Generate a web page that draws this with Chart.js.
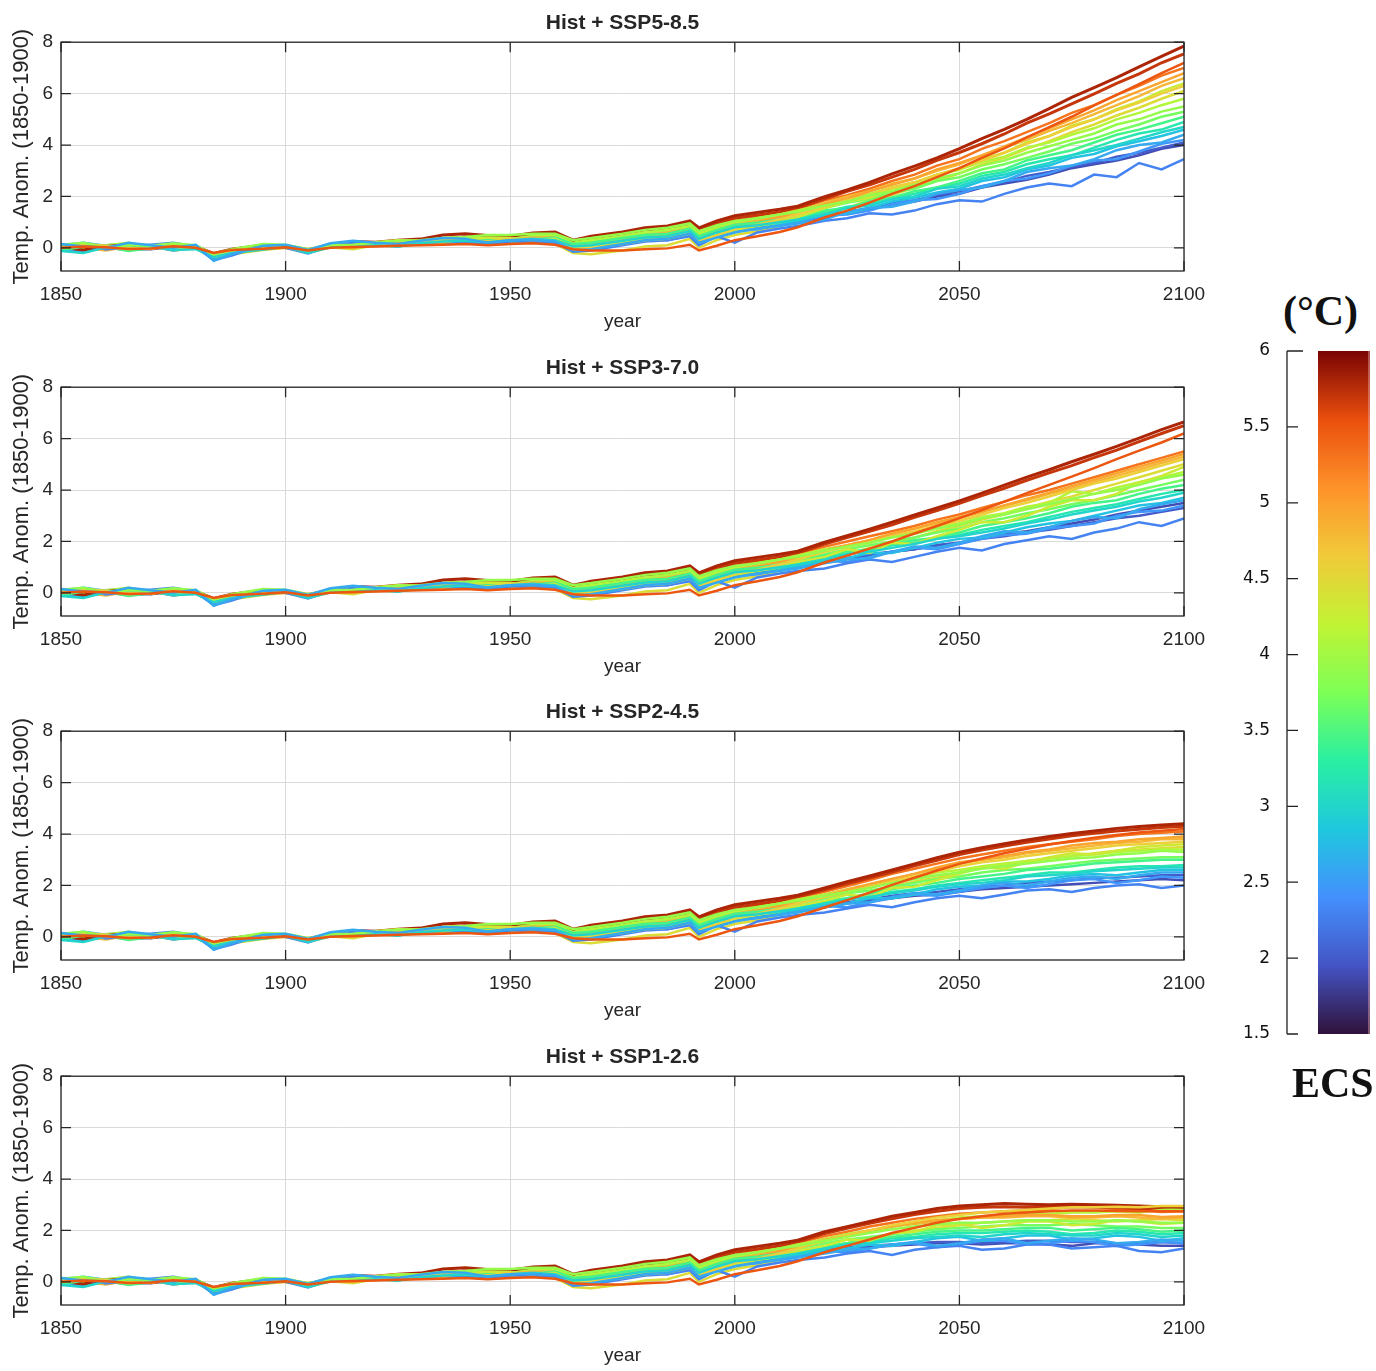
<!DOCTYPE html>
<html>
<head>
<meta charset="utf-8">
<title>Temperature anomaly by ECS - Hist + SSP scenarios</title>
<script src="https://cdn.jsdelivr.net/npm/chart.js@4.4.1/dist/chart.umd.min.js"></script>
<style>
  html, body { margin: 0; padding: 0; background: #fff; }
  body { width: 1376px; height: 1371px; position: relative; overflow: hidden; }
  .panel { position: absolute; left: 0; width: 1245px; height: 345px; }
  #cbWrap { position: absolute; left: 1236px; top: 330px; width: 140px; height: 730px; }
  .cbText { position: absolute; font-family: 'Liberation Serif', serif; font-weight: bold;
            font-size: 42px; line-height: 42px; color: #111; white-space: nowrap; }
</style>
</head>
<body>
<div class="panel" style="top:0px"><canvas id="p0"></canvas></div>
<div class="panel" style="top:345px"><canvas id="p1"></canvas></div>
<div class="panel" style="top:689px"><canvas id="p2"></canvas></div>
<div class="panel" style="top:1034px"><canvas id="p3"></canvas></div>
<div class="cbText" style="left:1283px; top:290px;">(°C)</div>
<div id="cbWrap"><canvas id="cb"></canvas></div>
<div class="cbText" style="left:1292px; top:1062px;">ECS</div>

<script>
// ---- data ----
const panelTitles = ['Hist + SSP5-8.5', 'Hist + SSP3-7.0', 'Hist + SSP2-4.5', 'Hist + SSP1-2.6'];
const xTickValues = [1850, 1900, 1950, 2000, 2050, 2100];
const yTickValues = [0, 2, 4, 6, 8];
const ecsTickValues = [1.5, 2, 2.5, 3, 3.5, 4, 4.5, 5, 5.5, 6];

const histYears = [1850, 1855, 1860, 1865, 1870, 1875, 1880, 1884, 1888, 1895, 1900, 1905,
                   1910, 1915, 1920, 1925, 1930, 1935, 1940, 1945, 1950, 1955, 1960, 1964,
                   1968, 1975, 1980, 1985, 1990, 1992, 1996, 2000, 2005, 2010, 2014];
const scenarioYears = [2020, 2025, 2030, 2035, 2040, 2045, 2050, 2055, 2060,
                       2065, 2070, 2075, 2080, 2085, 2090, 2095, 2100];

// one entry per model, highest ECS first
const modelECS = [5.8, 5.7, 5.5, 5.3, 4.95, 4.8, 4.6, 4.45, 4.3, 4.1, 3.9,
                  3.7, 3.45, 3.2, 3.0, 2.8, 2.6, 2.45, 2.3, 2.0, 1.9];

const histAnom = [
  [0.02, -0.08, 0.05, 0.12, -0.03, 0.08, 0.06, -0.22, -0.05, 0.1, 0.08, -0.08, 0.12, 0.25, 0.22, 0.3, 0.34, 0.5, 0.55, 0.48, 0.45, 0.58, 0.62, 0.3, 0.45, 0.62, 0.78, 0.85, 1.05, 0.78, 1.05, 1.25, 1.38, 1.5, 1.62],
  [-0.04, 0.06, 0.03, -0.08, 0.0, 0.1, 0.02, -0.28, -0.1, 0.0, 0.04, -0.12, 0.08, 0.12, 0.18, 0.28, 0.3, 0.35, 0.42, 0.4, 0.4, 0.48, 0.5, 0.22, 0.35, 0.55, 0.7, 0.75, 0.95, 0.7, 0.95, 1.15, 1.28, 1.4, 1.55],
  [0.0, 0.05, 0.02, -0.04, -0.02, 0.06, 0.0, -0.2, -0.08, -0.03, 0.02, -0.1, 0.0, 0.03, 0.05, 0.08, 0.1, 0.12, 0.15, 0.1, 0.15, 0.18, 0.12, -0.05, -0.1, -0.1, -0.05, -0.02, 0.12, -0.1, 0.08, 0.3, 0.45, 0.62, 0.8],
  [0.05, -0.05, 0.0, 0.08, 0.04, -0.06, 0.02, -0.3, -0.12, 0.02, 0.06, -0.15, 0.1, 0.05, 0.15, 0.2, 0.28, 0.32, 0.4, 0.45, 0.42, 0.4, 0.48, 0.15, 0.25, 0.4, 0.55, 0.62, 0.85, 0.55, 0.8, 1.05, 1.2, 1.35, 1.5],
  [-0.05, 0.1, 0.05, -0.02, 0.0, 0.12, 0.04, -0.32, -0.15, -0.05, 0.0, -0.18, 0.05, 0.0, 0.12, 0.18, 0.25, 0.2, 0.35, 0.3, 0.3, 0.28, 0.35, 0.05, 0.1, 0.25, 0.4, 0.5, 0.7, 0.4, 0.65, 0.85, 1.0, 1.2, 1.35],
  [0.08, 0.0, -0.1, 0.05, 0.06, 0.0, 0.0, -0.26, -0.05, 0.05, 0.1, -0.05, 0.12, 0.18, 0.2, 0.22, 0.3, 0.38, 0.38, 0.42, 0.45, 0.4, 0.42, 0.12, 0.2, 0.35, 0.5, 0.6, 0.78, 0.5, 0.75, 0.95, 1.1, 1.25, 1.4],
  [0.0, 0.15, 0.08, 0.0, -0.04, 0.1, 0.05, -0.35, -0.2, -0.02, 0.05, -0.12, 0.08, 0.1, 0.15, 0.12, 0.22, 0.3, 0.3, 0.25, 0.35, 0.32, 0.3, -0.05, 0.0, 0.15, 0.3, 0.35, 0.55, 0.25, 0.5, 0.75, 0.9, 1.1, 1.3],
  [-0.08, -0.15, 0.0, 0.1, 0.05, -0.1, -0.02, -0.4, -0.25, -0.08, 0.0, -0.2, 0.02, -0.05, 0.1, 0.05, 0.15, 0.22, 0.25, 0.18, 0.2, 0.22, 0.15, -0.2, -0.25, -0.1, 0.05, 0.1, 0.35, 0.0, 0.3, 0.5, 0.65, 0.85, 1.05],
  [0.1, 0.18, 0.04, -0.05, 0.0, 0.15, 0.08, -0.3, -0.1, 0.02, 0.1, -0.08, 0.15, 0.2, 0.22, 0.3, 0.28, 0.25, 0.32, 0.4, 0.38, 0.3, 0.35, 0.0, 0.05, 0.2, 0.4, 0.45, 0.6, 0.3, 0.5, 0.7, 0.85, 1.0, 1.2],
  [0.05, -0.02, 0.1, 0.2, 0.03, -0.05, 0.0, -0.38, -0.15, 0.0, 0.02, -0.15, 0.06, 0.15, 0.18, 0.2, 0.25, 0.35, 0.4, 0.45, 0.42, 0.5, 0.5, 0.2, 0.3, 0.45, 0.6, 0.7, 0.85, 0.55, 0.8, 1.0, 1.15, 1.3, 1.45],
  [0.12, 0.2, 0.0, 0.1, 0.08, 0.18, 0.1, -0.25, -0.05, 0.15, 0.12, -0.05, 0.1, 0.12, 0.2, 0.28, 0.3, 0.38, 0.42, 0.5, 0.5, 0.55, 0.55, 0.3, 0.38, 0.55, 0.7, 0.78, 0.95, 0.65, 0.88, 1.05, 1.15, 1.3, 1.4],
  [0.0, -0.1, 0.06, 0.15, 0.1, 0.02, 0.03, -0.32, -0.12, 0.05, 0.05, -0.1, 0.12, 0.08, 0.15, 0.2, 0.25, 0.3, 0.35, 0.32, 0.4, 0.45, 0.45, 0.2, 0.28, 0.42, 0.55, 0.62, 0.8, 0.5, 0.75, 0.95, 1.05, 1.2, 1.3],
  [-0.1, 0.05, 0.04, -0.12, -0.02, 0.08, 0.06, -0.28, -0.1, -0.04, 0.08, -0.12, 0.05, 0.15, 0.12, 0.1, 0.22, 0.28, 0.3, 0.35, 0.35, 0.32, 0.4, 0.15, 0.2, 0.38, 0.5, 0.55, 0.75, 0.45, 0.7, 0.9, 0.98, 1.1, 1.2],
  [0.06, 0.15, -0.05, 0.0, 0.02, 0.12, 0.08, -0.3, -0.15, 0.02, 0.0, -0.15, 0.1, 0.05, 0.16, 0.25, 0.2, 0.22, 0.32, 0.3, 0.38, 0.42, 0.35, 0.1, 0.2, 0.32, 0.45, 0.5, 0.7, 0.4, 0.65, 0.85, 0.95, 1.05, 1.15],
  [-0.12, -0.2, 0.02, 0.1, 0.05, -0.08, -0.05, -0.35, -0.2, -0.06, 0.04, -0.2, 0.02, 0.1, 0.1, 0.05, 0.18, 0.25, 0.28, 0.22, 0.3, 0.35, 0.3, 0.05, 0.1, 0.28, 0.4, 0.45, 0.65, 0.35, 0.6, 0.8, 0.88, 1.0, 1.1],
  [0.1, 0.2, 0.08, -0.05, 0.0, 0.15, 0.04, -0.42, -0.2, 0.05, 0.1, -0.12, 0.15, 0.25, 0.1, 0.2, 0.25, 0.35, 0.3, 0.25, 0.32, 0.3, 0.28, 0.0, 0.05, 0.22, 0.35, 0.4, 0.6, 0.3, 0.55, 0.75, 0.85, 0.95, 1.05],
  [0.15, 0.05, 0.0, 0.2, 0.1, 0.0, 0.12, -0.5, -0.25, 0.08, 0.12, -0.08, 0.18, 0.28, 0.2, 0.15, 0.28, 0.38, 0.35, 0.2, 0.3, 0.32, 0.25, -0.1, -0.05, 0.15, 0.3, 0.35, 0.55, 0.2, 0.4, 0.6, 0.75, 0.85, 0.95],
  [-0.05, -0.15, 0.1, 0.15, 0.06, -0.1, 0.0, -0.45, -0.2, 0.0, 0.06, -0.15, 0.1, 0.05, 0.15, 0.25, 0.22, 0.18, 0.25, 0.3, 0.28, 0.2, 0.3, -0.05, 0.05, 0.2, 0.35, 0.3, 0.5, 0.25, 0.45, 0.65, 0.72, 0.9, 1.0],
  [0.08, 0.18, -0.06, 0.05, 0.12, 0.2, 0.05, -0.48, -0.3, 0.1, 0.0, -0.22, 0.08, 0.2, 0.14, 0.05, 0.2, 0.3, 0.22, 0.15, 0.25, 0.3, 0.2, -0.15, -0.1, 0.1, 0.25, 0.3, 0.45, 0.1, 0.45, 0.2, 0.6, 0.75, 0.85],
  [0.0, 0.1, 0.05, -0.05, -0.05, 0.05, 0.08, -0.3, -0.12, 0.02, 0.05, -0.1, 0.1, 0.15, 0.18, 0.22, 0.3, 0.32, 0.35, 0.38, 0.4, 0.35, 0.38, 0.15, 0.2, 0.3, 0.45, 0.5, 0.65, 0.4, 0.6, 0.8, 0.9, 1.0, 1.1],
  [0.04, -0.05, -0.02, 0.08, 0.04, -0.04, 0.0, -0.25, -0.1, 0.0, 0.04, -0.08, 0.06, 0.1, 0.12, 0.2, 0.26, 0.28, 0.3, 0.32, 0.34, 0.38, 0.36, 0.15, 0.2, 0.28, 0.42, 0.48, 0.6, 0.38, 0.55, 0.72, 0.82, 0.92, 1.02]
];

const ssp585 = [
  [1.99, 2.25, 2.55, 2.88, 3.18, 3.5, 3.86, 4.25, 4.61, 5.0, 5.42, 5.85, 6.23, 6.62, 7.04, 7.45, 7.85],
  [1.91, 2.2, 2.45, 2.75, 3.05, 3.4, 3.71, 4.05, 4.43, 4.85, 5.21, 5.6, 5.99, 6.4, 6.77, 7.2, 7.55],
  [1.18, 1.45, 1.76, 2.1, 2.4, 2.75, 3.1, 3.5, 3.87, 4.3, 4.7, 5.1, 5.54, 5.95, 6.37, 6.8, 7.2],
  [1.85, 2.05, 2.3, 2.6, 2.85, 3.2, 3.45, 3.85, 4.15, 4.5, 4.85, 5.25, 5.55, 5.95, 6.3, 6.7, 7.0],
  [1.7, 1.9, 2.2, 2.45, 2.7, 3.05, 3.3, 3.6, 3.95, 4.3, 4.65, 5.0, 5.35, 5.75, 6.1, 6.45, 6.8],
  [1.75, 2.0, 2.2, 2.5, 2.7, 3.0, 3.25, 3.6, 3.9, 4.2, 4.55, 4.85, 5.2, 5.55, 5.9, 6.3, 6.6],
  [1.6, 1.85, 2.05, 2.35, 2.55, 2.85, 3.1, 3.4, 3.7, 4.05, 4.35, 4.7, 5.0, 5.35, 5.65, 6.0, 6.3],
  [1.4, 1.55, 1.85, 2.05, 2.35, 2.6, 2.9, 3.25, 3.5, 3.85, 4.15, 4.5, 4.8, 5.15, 5.45, 5.8, 6.1],
  [1.55, 1.8, 1.95, 2.3, 2.5, 2.85, 3.05, 3.45, 3.7, 4.1, 4.35, 4.75, 5.0, 5.4, 5.7, 6.1, 6.4],
  [1.7, 1.85, 2.1, 2.35, 2.55, 2.85, 3.05, 3.35, 3.55, 3.9, 4.1, 4.4, 4.65, 5.0, 5.25, 5.55, 5.8],
  [1.65, 1.8, 2.05, 2.2, 2.45, 2.7, 2.9, 3.2, 3.4, 3.7, 3.95, 4.2, 4.45, 4.8, 5.0, 5.3, 5.5],
  [1.55, 1.75, 1.9, 2.15, 2.3, 2.6, 2.75, 3.05, 3.25, 3.5, 3.75, 4.05, 4.25, 4.55, 4.8, 5.1, 5.3],
  [1.45, 1.55, 1.8, 1.95, 2.2, 2.35, 2.6, 2.9, 3.05, 3.4, 3.6, 3.8, 4.1, 4.4, 4.6, 4.85, 5.1],
  [1.4, 1.6, 1.7, 1.95, 2.1, 2.35, 2.5, 2.8, 2.95, 3.25, 3.45, 3.6, 3.9, 4.2, 4.45, 4.6, 4.9],
  [1.3, 1.55, 1.65, 1.9, 2.0, 2.3, 2.4, 2.7, 2.85, 3.1, 3.3, 3.6, 3.8, 4.0, 4.25, 4.5, 4.7],
  [1.3, 1.35, 1.55, 1.8, 1.95, 2.15, 2.3, 2.6, 2.75, 3.05, 3.2, 3.5, 3.65, 3.95, 4.15, 4.35, 4.6],
  [1.1, 1.4, 1.55, 1.6, 1.8, 2.1, 2.25, 2.35, 2.6, 2.95, 3.1, 3.2, 3.45, 3.8, 4.0, 4.1, 4.4],
  [1.25, 1.3, 1.45, 1.7, 1.85, 1.9, 2.1, 2.4, 2.6, 2.7, 2.9, 3.2, 3.4, 3.45, 3.75, 4.05, 4.2],
  [1.05, 1.15, 1.35, 1.3, 1.45, 1.7, 1.85, 1.8, 2.1, 2.35, 2.5, 2.4, 2.85, 2.75, 3.3, 3.05, 3.45],
  [1.3, 1.4, 1.55, 1.75, 1.85, 2.05, 2.2, 2.4, 2.55, 2.8, 2.95, 3.15, 3.3, 3.55, 3.7, 3.9, 4.1],
  [1.2, 1.4, 1.5, 1.7, 1.8, 2.0, 2.1, 2.35, 2.5, 2.65, 2.85, 3.1, 3.25, 3.4, 3.6, 3.85, 4.0]
];

const ssp370 = [
  [1.97, 2.22, 2.48, 2.75, 3.03, 3.3, 3.58, 3.88, 4.19, 4.5, 4.79, 5.1, 5.39, 5.7, 6.02, 6.35, 6.65],
  [1.9, 2.15, 2.39, 2.65, 2.94, 3.2, 3.48, 3.78, 4.07, 4.38, 4.67, 4.95, 5.26, 5.55, 5.88, 6.2, 6.5],
  [1.18, 1.45, 1.72, 2.0, 2.31, 2.6, 2.91, 3.22, 3.55, 3.88, 4.2, 4.52, 4.85, 5.2, 5.53, 5.85, 6.2],
  [1.8, 2.0, 2.2, 2.4, 2.6, 2.85, 3.05, 3.3, 3.55, 3.8, 4.0, 4.25, 4.5, 4.75, 5.0, 5.25, 5.5],
  [1.65, 1.85, 2.05, 2.3, 2.5, 2.75, 2.95, 3.15, 3.4, 3.65, 3.9, 4.15, 4.4, 4.65, 4.9, 5.15, 5.4],
  [1.7, 1.85, 2.05, 2.3, 2.5, 2.7, 2.9, 3.15, 3.4, 3.6, 3.85, 4.05, 4.3, 4.55, 4.8, 5.05, 5.3],
  [1.6, 1.8, 1.95, 2.2, 2.4, 2.6, 2.8, 3.05, 3.3, 3.5, 3.75, 4.0, 4.25, 4.45, 4.7, 4.95, 5.2],
  [1.35, 1.5, 1.75, 1.9, 2.15, 2.4, 2.6, 2.85, 3.05, 3.3, 3.55, 3.75, 4.0, 4.25, 4.5, 4.75, 5.0],
  [1.4, 1.7, 1.55, 1.95, 1.9, 2.2, 2.45, 2.75, 2.75, 3.0, 3.35, 3.6, 3.6, 3.85, 4.3, 4.55, 4.9],
  [1.7, 1.8, 2.0, 2.2, 2.35, 2.6, 2.7, 2.95, 3.1, 3.35, 3.5, 3.95, 3.85, 4.1, 4.3, 4.5, 4.7],
  [1.65, 1.8, 1.95, 2.15, 2.3, 2.5, 2.65, 2.9, 3.05, 3.25, 3.45, 3.65, 3.85, 4.0, 4.2, 4.45, 4.6],
  [1.5, 1.7, 1.85, 2.0, 2.15, 2.35, 2.5, 2.75, 2.9, 3.1, 3.25, 3.45, 3.6, 3.8, 4.0, 4.2, 4.4],
  [1.45, 1.6, 1.7, 1.9, 2.05, 2.15, 2.35, 2.6, 2.75, 2.9, 3.1, 3.35, 3.5, 3.6, 3.85, 4.05, 4.2],
  [1.4, 1.55, 1.65, 1.85, 1.95, 2.1, 2.25, 2.45, 2.6, 2.75, 2.95, 3.15, 3.3, 3.45, 3.65, 3.85, 4.0],
  [1.3, 1.5, 1.6, 1.75, 1.9, 2.1, 2.2, 2.35, 2.5, 2.7, 2.85, 3.05, 3.2, 3.35, 3.55, 3.7, 3.9],
  [1.2, 1.35, 1.55, 1.55, 1.75, 1.95, 2.1, 2.15, 2.35, 2.55, 2.7, 2.8, 3.0, 3.2, 3.4, 3.5, 3.7],
  [1.15, 1.3, 1.35, 1.6, 1.8, 1.75, 1.95, 2.2, 2.4, 2.35, 2.55, 2.8, 2.95, 2.9, 3.25, 3.45, 3.6],
  [1.25, 1.2, 1.4, 1.6, 1.75, 1.7, 1.9, 2.1, 2.25, 2.3, 2.5, 2.6, 2.7, 3.0, 3.15, 3.2, 3.4],
  [0.95, 1.15, 1.3, 1.2, 1.4, 1.6, 1.75, 1.65, 1.9, 2.05, 2.2, 2.1, 2.35, 2.5, 2.75, 2.6, 2.9],
  [1.25, 1.35, 1.5, 1.6, 1.7, 1.85, 1.95, 2.1, 2.2, 2.35, 2.45, 2.6, 2.75, 2.9, 3.0, 3.15, 3.3],
  [1.2, 1.35, 1.45, 1.6, 1.7, 1.85, 1.95, 2.15, 2.3, 2.4, 2.55, 2.7, 2.85, 3.05, 3.2, 3.35, 3.5]
];

const ssp245 = [
  [1.9, 2.15, 2.37, 2.6, 2.84, 3.08, 3.29, 3.47, 3.62, 3.77, 3.9, 4.02, 4.12, 4.22, 4.29, 4.35, 4.4],
  [1.83, 2.06, 2.29, 2.52, 2.76, 2.98, 3.2, 3.38, 3.53, 3.68, 3.81, 3.93, 4.03, 4.12, 4.19, 4.25, 4.3],
  [1.14, 1.43, 1.72, 2.02, 2.3, 2.58, 2.84, 3.05, 3.25, 3.43, 3.59, 3.73, 3.86, 3.96, 4.06, 4.13, 4.2],
  [1.75, 1.98, 2.2, 2.45, 2.65, 2.85, 3.05, 3.2, 3.35, 3.5, 3.6, 3.7, 3.8, 3.92, 4.0, 4.05, 4.1],
  [1.6, 1.8, 2.05, 2.25, 2.45, 2.7, 2.9, 3.0, 3.15, 3.3, 3.4, 3.55, 3.65, 3.7, 3.8, 3.85, 3.9],
  [1.65, 1.85, 2.05, 2.25, 2.45, 2.65, 2.85, 3.0, 3.1, 3.25, 3.35, 3.45, 3.55, 3.65, 3.7, 3.8, 3.8],
  [1.55, 1.75, 1.95, 2.15, 2.35, 2.55, 2.75, 2.9, 3.0, 3.15, 3.25, 3.35, 3.45, 3.55, 3.6, 3.65, 3.7],
  [1.3, 1.45, 1.7, 1.95, 2.15, 2.3, 2.5, 2.7, 2.8, 2.95, 3.05, 3.15, 3.25, 3.35, 3.4, 3.45, 3.5],
  [1.4, 1.65, 1.55, 1.9, 1.95, 2.2, 2.45, 2.7, 2.65, 2.9, 3.1, 3.25, 3.2, 3.35, 3.5, 3.55, 3.6],
  [1.65, 1.8, 2.0, 2.15, 2.3, 2.5, 2.6, 2.75, 2.85, 2.95, 3.05, 3.15, 3.2, 3.3, 3.35, 3.4, 3.4],
  [1.6, 1.75, 1.9, 2.1, 2.25, 2.4, 2.5, 2.65, 2.75, 2.85, 2.95, 3.05, 3.1, 3.2, 3.25, 3.35, 3.3],
  [1.5, 1.7, 1.8, 1.95, 2.1, 2.25, 2.35, 2.5, 2.6, 2.65, 2.75, 2.85, 2.95, 3.0, 3.05, 3.1, 3.1],
  [1.4, 1.5, 1.7, 1.85, 2.0, 2.1, 2.25, 2.35, 2.45, 2.6, 2.65, 2.75, 2.85, 2.9, 2.95, 3.0, 3.0],
  [1.35, 1.5, 1.6, 1.75, 1.85, 2.0, 2.1, 2.2, 2.3, 2.4, 2.5, 2.5, 2.6, 2.7, 2.75, 2.75, 2.8],
  [1.3, 1.45, 1.55, 1.7, 1.8, 1.95, 2.05, 2.1, 2.2, 2.35, 2.4, 2.45, 2.55, 2.6, 2.65, 2.7, 2.7],
  [1.2, 1.3, 1.5, 1.5, 1.65, 1.85, 1.95, 2.0, 2.15, 2.15, 2.25, 2.4, 2.45, 2.4, 2.5, 2.6, 2.6],
  [1.15, 1.3, 1.35, 1.55, 1.7, 1.65, 1.8, 2.0, 2.1, 2.0, 2.15, 2.3, 2.35, 2.25, 2.4, 2.5, 2.5],
  [1.2, 1.15, 1.35, 1.5, 1.65, 1.6, 1.75, 1.9, 2.0, 1.9, 2.05, 2.2, 2.25, 2.1, 2.2, 2.35, 2.3],
  [0.95, 1.1, 1.25, 1.15, 1.35, 1.5, 1.6, 1.5, 1.65, 1.8, 1.85, 1.75, 1.9, 2.0, 2.05, 1.9, 2.0],
  [1.25, 1.35, 1.45, 1.6, 1.7, 1.75, 1.85, 1.95, 2.0, 2.1, 2.15, 2.2, 2.3, 2.3, 2.35, 2.4, 2.4],
  [1.15, 1.3, 1.4, 1.5, 1.6, 1.65, 1.75, 1.85, 1.9, 1.95, 2.0, 2.05, 2.1, 2.15, 2.2, 2.25, 2.2]
];

const ssp126 = [
  [1.95, 2.15, 2.35, 2.55, 2.7, 2.85, 2.95, 3.0, 3.05, 3.02, 3.0, 3.02, 3.0, 2.98, 2.95, 2.92, 2.9],
  [1.88, 2.08, 2.28, 2.45, 2.62, 2.75, 2.85, 2.9, 2.92, 2.9, 2.9, 2.92, 2.9, 2.88, 2.85, 2.82, 2.8],
  [1.15, 1.4, 1.65, 1.9, 2.1, 2.3, 2.45, 2.55, 2.65, 2.7, 2.75, 2.78, 2.78, 2.76, 2.75, 2.75, 2.75],
  [1.78, 1.95, 2.15, 2.3, 2.45, 2.55, 2.65, 2.7, 2.75, 2.78, 2.8, 2.72, 2.75, 2.8, 2.8, 2.72, 2.75],
  [1.62, 1.8, 2.0, 2.15, 2.3, 2.4, 2.45, 2.5, 2.55, 2.6, 2.6, 2.55, 2.55, 2.6, 2.6, 2.52, 2.55],
  [1.68, 1.85, 2.0, 2.15, 2.25, 2.35, 2.45, 2.5, 2.5, 2.55, 2.55, 2.5, 2.5, 2.55, 2.5, 2.45, 2.5],
  [1.6, 1.8, 2.0, 2.2, 2.35, 2.5, 2.6, 2.7, 2.75, 2.8, 2.85, 2.9, 2.9, 2.92, 2.9, 2.95, 2.95],
  [1.3, 1.5, 1.7, 1.85, 2.0, 2.1, 2.2, 2.3, 2.35, 2.4, 2.4, 2.45, 2.4, 2.35, 2.4, 2.45, 2.4],
  [1.4, 1.65, 1.6, 1.9, 1.95, 2.2, 2.25, 2.1, 2.2, 2.35, 2.35, 2.2, 2.25, 2.4, 2.35, 2.25, 2.3],
  [1.65, 1.85, 2.0, 2.15, 2.3, 2.4, 2.5, 2.55, 2.6, 2.65, 2.65, 2.7, 2.7, 2.75, 2.7, 2.8, 2.85],
  [1.6, 1.75, 1.9, 2.05, 2.15, 2.25, 2.3, 2.3, 2.35, 2.4, 2.4, 2.35, 2.35, 2.4, 2.35, 2.3, 2.3],
  [1.5, 1.65, 1.75, 1.85, 1.95, 2.05, 2.1, 2.15, 2.2, 2.2, 2.2, 2.25, 2.2, 2.15, 2.15, 2.1, 2.1],
  [1.4, 1.5, 1.65, 1.75, 1.85, 1.95, 2.0, 2.0, 2.05, 2.1, 2.1, 2.0, 2.05, 2.1, 2.05, 1.95, 2.0],
  [1.35, 1.5, 1.55, 1.7, 1.75, 1.85, 1.9, 1.9, 1.95, 2.0, 1.95, 1.85, 1.9, 2.0, 1.95, 1.85, 1.9],
  [1.3, 1.45, 1.5, 1.6, 1.7, 1.75, 1.8, 1.75, 1.85, 1.9, 1.85, 1.8, 1.8, 1.9, 1.85, 1.75, 1.8],
  [1.2, 1.3, 1.45, 1.4, 1.55, 1.7, 1.75, 1.6, 1.7, 1.8, 1.8, 1.65, 1.7, 1.8, 1.75, 1.6, 1.7],
  [1.1, 1.25, 1.3, 1.45, 1.55, 1.4, 1.5, 1.65, 1.7, 1.5, 1.6, 1.7, 1.65, 1.5, 1.55, 1.65, 1.6],
  [1.2, 1.15, 1.3, 1.45, 1.5, 1.35, 1.45, 1.6, 1.6, 1.45, 1.5, 1.6, 1.55, 1.4, 1.45, 1.55, 1.5],
  [0.95, 1.1, 1.2, 1.05, 1.25, 1.35, 1.4, 1.25, 1.3, 1.45, 1.45, 1.3, 1.35, 1.4, 1.2, 1.15, 1.3],
  [1.25, 1.35, 1.4, 1.45, 1.5, 1.55, 1.55, 1.5, 1.55, 1.6, 1.6, 1.55, 1.55, 1.5, 1.5, 1.55, 1.5],
  [1.15, 1.25, 1.35, 1.4, 1.45, 1.5, 1.5, 1.45, 1.5, 1.5, 1.45, 1.4, 1.5, 1.5, 1.45, 1.4, 1.4]
];

// ---- styling ----
const INK = '#262626';
const GRID = '#dadada';
const SANS = "'Liberation Sans', Arial, sans-serif";
const turboStops = ['#30123b', '#4454c4', '#4490fe', '#1fc8de', '#29efa2', '#7dff56',
                    '#c1f334', '#f1ca3a', '#fe922a', '#ea4f0d', '#7a0403'];
const ecsMin = 1.5, ecsMax = 6;
// stacking of the model lines (lower = drawn on top), so colours mix as in the original
const drawOrder = [9, 18, 0, 19, 8, 13, 4, 16, 6, 11, 2, 14, 7, 15, 3, 10, 1, 12, 5, 17, 20];

function hexToRgb(h) {
  const n = parseInt(h.slice(1), 16);
  return [(n >> 16) & 255, (n >> 8) & 255, n & 255];
}

function turboColor(t) {
  t = Math.min(1, Math.max(0, t));
  const s = t * (turboStops.length - 1);
  const i = Math.min(Math.floor(s), turboStops.length - 2);
  const f = s - i;
  const a = hexToRgb(turboStops[i]), b = hexToRgb(turboStops[i + 1]);
  const c = a.map((v, k) => Math.round(v + (b[k] - v) * f));
  return `rgb(${c[0]},${c[1]},${c[2]})`;
}

// axes box with inward tick marks, MATLAB style
const boxPlugin = {
  id: 'box',
  afterDatasetsDraw(chart) {
    const { ctx, chartArea: a, scales: { x, y } } = chart;
    ctx.save();
    ctx.strokeStyle = INK;
    ctx.lineWidth = 1.3;
    ctx.beginPath();
    x.ticks.forEach(t => {
      const px = x.getPixelForValue(t.value);
      ctx.moveTo(px, a.bottom); ctx.lineTo(px, a.bottom - 10);
      ctx.moveTo(px, a.top); ctx.lineTo(px, a.top + 10);
    });
    y.ticks.forEach(t => {
      const py = y.getPixelForValue(t.value);
      ctx.moveTo(a.left, py); ctx.lineTo(a.left + 10, py);
      ctx.moveTo(a.right, py); ctx.lineTo(a.right - 10, py);
    });
    ctx.stroke();
    ctx.strokeRect(a.left, a.top, a.right - a.left, a.bottom - a.top);
    ctx.restore();
  }
};

function makePanel(canvasId, title, proj) {
  const datasets = modelECS.map((ecs, i) => ({
    data: histYears.map((yr, j) => ({ x: yr, y: histAnom[i][j] }))
      .concat(scenarioYears.map((yr, j) => ({ x: yr, y: proj[i][j] }))),
    borderColor: turboColor((ecs - ecsMin) / (ecsMax - ecsMin)),
    borderWidth: i < 2 ? 3 : 2.5,
    order: drawOrder[i],
    pointRadius: 0,
    tension: 0,
    fill: false
  }));

  new Chart(document.getElementById(canvasId), {
    type: 'line',
    data: { datasets },
    options: {
      animation: false,
      responsive: true,
      maintainAspectRatio: false,
      layout: { padding: { left: 0, right: 61, top: 0, bottom: 0 } },
      plugins: {
        legend: { display: false },
        tooltip: { enabled: false },
        title: {
          display: true, text: title, color: INK, fullSize: false,
          font: { family: SANS, size: 21, weight: 'bold' },
          padding: { top: 11, bottom: 6 }
        }
      },
      scales: {
        x: {
          type: 'linear', min: 1850, max: 2100,
          afterBuildTicks: s => { s.ticks = xTickValues.map(v => ({ value: v })); },
          afterFit: s => { s.height = 74; },
          ticks: { color: INK, font: { family: SANS, size: 19 }, padding: 12, maxRotation: 0,
                   callback: v => String(v) },
          grid: { color: GRID, lineWidth: 1, drawTicks: false },
          border: { display: false },
          title: { display: true, text: 'year', color: INK, font: { family: SANS, size: 19 },
                   padding: { top: 0, bottom: 12 } }
        },
        y: {
          min: -0.9, max: 8,
          afterBuildTicks: s => { s.ticks = yTickValues.map(v => ({ value: v })); },
          afterFit: s => { s.width = 61; },
          ticks: { color: INK, font: { family: SANS, size: 19 }, padding: 8,
                   callback: v => String(v) },
          grid: { color: GRID, lineWidth: 1, drawTicks: false },
          border: { display: false },
          title: { display: true, text: 'Temp. Anom. (1850-1900)', color: INK,
                   font: { family: SANS, size: 22 }, padding: { top: 9, bottom: 0 } }
        }
      }
    },
    plugins: [boxPlugin]
  });
}

makePanel('p0', panelTitles[0], ssp585);
makePanel('p1', panelTitles[1], ssp370);
makePanel('p2', panelTitles[2], ssp245);
makePanel('p3', panelTitles[3], ssp126);

// ---- ECS colour bar: chart area is the bracket + bar, axis line on its left edge ----
const colorbarPlugin = {
  id: 'colorbar',
  afterDraw(chart) {
    const { ctx, chartArea: a, scales: { y } } = chart;
    const top = y.getPixelForValue(y.max), bottom = y.getPixelForValue(y.min);
    const barLeft = a.right - 52;
    const g = ctx.createLinearGradient(0, bottom, 0, top);
    turboStops.forEach((c, i) => g.addColorStop(i / (turboStops.length - 1), c));
    ctx.save();
    ctx.fillStyle = g;
    ctx.fillRect(barLeft, top, a.right - barLeft, bottom - top);
    ctx.fillStyle = 'rgba(230,170,170,0.45)';
    ctx.fillRect(a.right - 2, top, 2, bottom - top);

    ctx.strokeStyle = '#222';
    ctx.lineWidth = 1.3;
    ctx.beginPath();
    ctx.moveTo(a.left, top);
    ctx.lineTo(a.left, bottom);
    y.ticks.forEach(t => {
      const py = y.getPixelForValue(t.value);
      ctx.moveTo(a.left, py);
      ctx.lineTo(a.left + (t.value === y.max ? 16 : 11), py);
    });
    ctx.stroke();
    ctx.restore();
  }
};

new Chart(document.getElementById('cb'), {
  type: 'scatter',
  data: { datasets: [] },
  options: {
    animation: false,
    responsive: true,
    maintainAspectRatio: false,
    layout: { padding: { left: 0, right: 6, top: 21, bottom: 26 } },
    plugins: { legend: { display: false }, tooltip: { enabled: false } },
    scales: {
      x: { display: false, min: 0, max: 1 },
      y: {
        min: ecsMin, max: ecsMax,
        afterBuildTicks: s => { s.ticks = ecsTickValues.map(v => ({ value: v })); },
        afterFit: s => { s.width = 51; },
        ticks: { color: '#111', font: { family: "'DejaVu Sans', sans-serif", size: 17 },
                 padding: 9, callback: v => String(v) },
        grid: { display: false },
        border: { display: false }
      }
    }
  },
  plugins: [colorbarPlugin]
});
</script>
</body>
</html>
